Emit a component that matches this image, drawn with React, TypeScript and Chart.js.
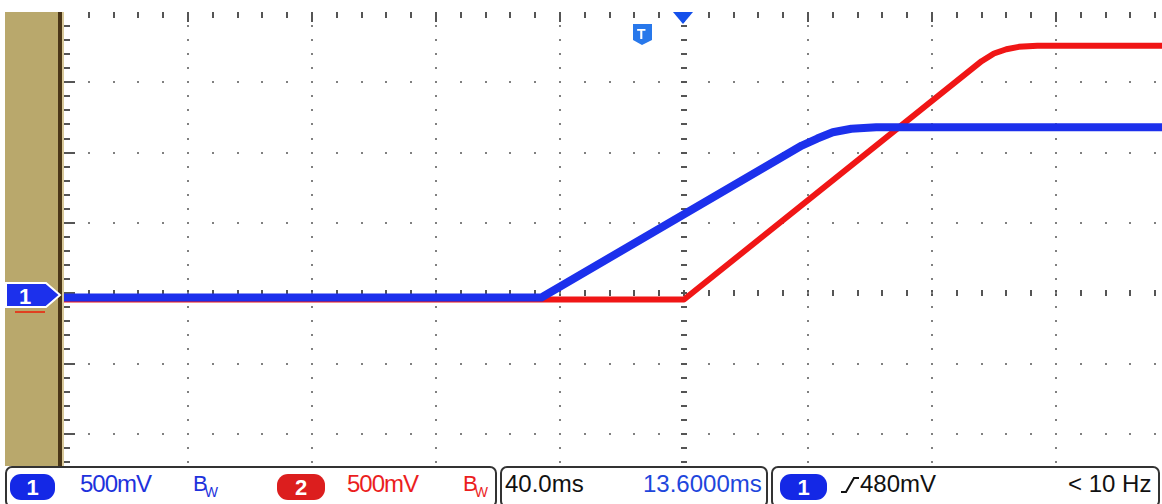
import React, { useEffect, useRef } from "react";
import { Chart, registerables } from "chart.js";

Chart.register(...registerables);

// Time in ms relative to screen centre, voltage in V
const timeCh1 = [-200, -46, 38, 43, 48, 54, 62, 155];
const ch1Volts = [-0.03, -0.03, 1.05, 1.1, 1.145, 1.17, 1.18, 1.18];
const timeCh2 = [-200, 0, 96, 100, 104, 108, 114, 155];
const ch2Volts = [-0.045, -0.045, 1.65, 1.705, 1.735, 1.752, 1.76, 1.76];

const ch1Label = "500mV";
const ch2Label = "500mV";
const timebaseLabel = "40.0ms";
const delayLabel = "13.6000ms";
const triggerLevelLabel = "480mV";
const triggerFreqLabel = "< 10 Hz";

const X_MIN = -200;
const X_MAX = 154.2;
const X_DIV = 40;
const Y_MAX = 2.0;
const Y_MIN = -1.229;
const Y_DIV = 0.5;

const BLUE = "rgb(28,48,236)";
const RED = "rgb(240,22,22)";

const graticule = {
  id: "graticule",
  beforeDatasetsDraw(chart: any) {
    const { ctx, chartArea, scales } = chart;
    const xs = scales.x;
    const ys = scales.y;
    const left = chartArea.left;
    const top = chartArea.top;
    ctx.save();
    const xMinorCount = Math.floor((X_MAX - X_MIN) / (X_DIV / 5)) + 1;
    const yMinorCount = Math.floor((Y_MAX - Y_MIN) / (Y_DIV / 5)) + 1;
    // rows
    for (let r = -2; r <= 3; r++) {
      const v = r * Y_DIV;
      const py = Math.round(ys.getPixelForValue(v));
      for (let i = 1; i < xMinorCount; i++) {
        const t = X_MIN + i * (X_DIV / 5);
        const px = Math.round(xs.getPixelForValue(t));
        if (r === 0) {
          ctx.fillStyle = "#555";
          ctx.fillRect(px - 1, py - 3, 2, 6);
        } else {
          ctx.fillStyle = "#808080";
          ctx.fillRect(px - 1, py - 1, 2, 2);
        }
      }
    }
    // columns
    for (let c = -4; c <= 3; c++) {
      const t = c * X_DIV;
      const px = Math.round(xs.getPixelForValue(t));
      for (let j = 1; j < yMinorCount; j++) {
        const v = Y_MAX - j * (Y_DIV / 5);
        const py = Math.round(ys.getPixelForValue(v));
        if (c === 0) {
          ctx.fillStyle = "#555";
          ctx.fillRect(px - 3, py - 1, 6, 2);
        } else {
          ctx.fillStyle = "#808080";
          ctx.fillRect(px - 1, py - 1, 2, 2);
        }
      }
    }
    // top edge ticks
    ctx.fillStyle = "#555";
    for (let i = 1; i < xMinorCount; i++) {
      const t = X_MIN + i * (X_DIV / 5);
      const px = Math.round(xs.getPixelForValue(t));
      const major = i % 5 === 0;
      ctx.fillRect(px - 1, top, 2, major ? 10 : 6);
    }
    // left edge ticks
    for (let j = 1; j < yMinorCount; j++) {
      const v = Y_MAX - j * (Y_DIV / 5);
      const py = Math.round(ys.getPixelForValue(v));
      const major = j % 5 === 0;
      ctx.fillRect(left, py - 1, major ? 11 : 6, 2);
    }
    ctx.restore();
  },
};

const font = "'Liberation Sans', Arial, sans-serif";

const txt = (left: number, color: string, text: string, extra: any = {}) => (
  <div
    style={{
      position: "absolute",
      left,
      top: 470,
      fontFamily: font,
      fontSize: 24,
      lineHeight: "28px",
      color,
      whiteSpace: "nowrap",
      ...extra,
    }}
  >
    {text}
  </div>
);

const badge = (left: number, width: number, bg: string, label: string) => (
  <div
    style={{
      position: "absolute",
      left,
      top: 474,
      width,
      height: 26,
      background: bg,
      borderRadius: 11,
      color: "#fff",
      fontFamily: font,
      fontSize: 22,
      fontWeight: "bold",
      lineHeight: "27px",
      textAlign: "center",
    }}
  >
    {label}
  </div>
);

const bw = (left: number, color: string) => (
  <div
    style={{
      position: "absolute",
      left,
      top: 470,
      fontFamily: font,
      fontSize: 22,
      lineHeight: "28px",
      color,
      whiteSpace: "nowrap",
    }}
  >
    B<span style={{ fontSize: 14, position: "relative", top: 6, marginLeft: -3 }}>W</span>
  </div>
);

const boxStyle = (left: number, width: number): any => ({
  position: "absolute",
  left,
  top: 466,
  width,
  height: 42,
  border: "2px solid #333",
  borderRadius: 7,
  boxSizing: "border-box",
  background: "#fff",
});

export default function App() {
  const ref = useRef<HTMLCanvasElement>(null);
  useEffect(() => {
    document.body.style.margin = "0";
    const chart = new Chart(ref.current as HTMLCanvasElement, {
      type: "line",
      data: {
        datasets: [
          {
            label: "CH1",
            data: timeCh1.map((t, i) => ({ x: t, y: ch1Volts[i] })),
            borderColor: BLUE,
            borderWidth: 8,
            pointRadius: 0,
            tension: 0,
            borderJoinStyle: "round",
          },
          {
            label: "CH2",
            data: timeCh2.map((t, i) => ({ x: t, y: ch2Volts[i] })),
            borderColor: RED,
            borderWidth: 6,
            pointRadius: 0,
            tension: 0,
            borderJoinStyle: "round",
          },
        ],
      },
      options: {
        animation: false,
        responsive: false,
        events: [],
        layout: { padding: 0 },
        scales: {
          x: { type: "linear", min: X_MIN, max: X_MAX, display: false },
          y: { type: "linear", min: Y_MIN, max: Y_MAX, display: false },
        },
        plugins: { legend: { display: false }, tooltip: { enabled: false } },
      } as any,
      plugins: [graticule],
    });
    return () => chart.destroy();
  }, []);

  return (
    <div style={{ position: "relative", width: 1162, height: 504, background: "#fff", overflow: "hidden" }}>
      {/* left panel */}
      <div style={{ position: "absolute", left: 5, top: 12, width: 53, height: 456, background: "#b9a86c" }} />
      <div style={{ position: "absolute", left: 58, top: 12, width: 4, height: 456, background: "#4a3618" }} />
      <div style={{ position: "absolute", left: 62, top: 12, width: 2, height: 456, background: "#d9c99a" }} />
      <canvas
        ref={ref}
        width={1098}
        height={454}
        style={{ position: "absolute", left: 64, top: 12, width: 1098, height: 454 }}
      />
      {/* channel 1 ground marker */}
      <svg style={{ position: "absolute", left: 4, top: 281 }} width={60} height={34}>
        <polygon points="2,2 42,2 56,14 42,26 2,26" fill={BLUE} stroke="#fff" strokeWidth={2} />
        <text x={15} y={23} fill="#fff" fontFamily={font} fontSize={22} fontWeight="bold">1</text>
        <rect x={11} y={30} width={30} height={2} fill="#e04020" />
      </svg>
      {/* trigger markers */}
      <svg style={{ position: "absolute", left: 628, top: 10 }} width={70} height={38}>
        <polygon points="45,2 65,2 55,14" fill="rgb(20,80,235)" />
        <polygon points="5,14 24,14 24,30 14,35 5,30" fill="rgb(40,120,235)" />
        <text x={9} y={29} fill="#fff" fontFamily={font} fontSize={14} fontWeight="bold">T</text>
      </svg>
      {/* status bar */}
      <div style={{ position: "absolute", left: 0, top: 466, width: 1162, height: 38, background: "#fff" }} />
      <div style={boxStyle(5, 492)} />
      <div style={boxStyle(500, 268)} />
      <div style={boxStyle(771, 389)} />
      {badge(10, 45, "rgb(20,40,230)", "1")}
      {txt(80, "rgb(30,50,220)", ch1Label, { letterSpacing: "-1px" })}
      {bw(193, "rgb(30,50,220)")}
      {badge(277, 48, "rgb(220,30,30)", "2")}
      {txt(347, "rgb(235,30,30)", ch2Label, { letterSpacing: "-1px" })}
      {bw(463, "rgb(235,30,30)")}
      {txt(505, "#111", timebaseLabel)}
      {txt(643, "rgb(30,70,220)", delayLabel)}
      {badge(780, 47, "rgb(20,40,230)", "1")}
      <svg style={{ position: "absolute", left: 840, top: 475 }} width={20} height={20}>
        <polyline points="1,17 6,17 14,3 19,3" fill="none" stroke="#111" strokeWidth={2} />
      </svg>
      {txt(860, "#111", triggerLevelLabel)}
      {txt(1068, "#111", triggerFreqLabel)}
    </div>
  );
}
